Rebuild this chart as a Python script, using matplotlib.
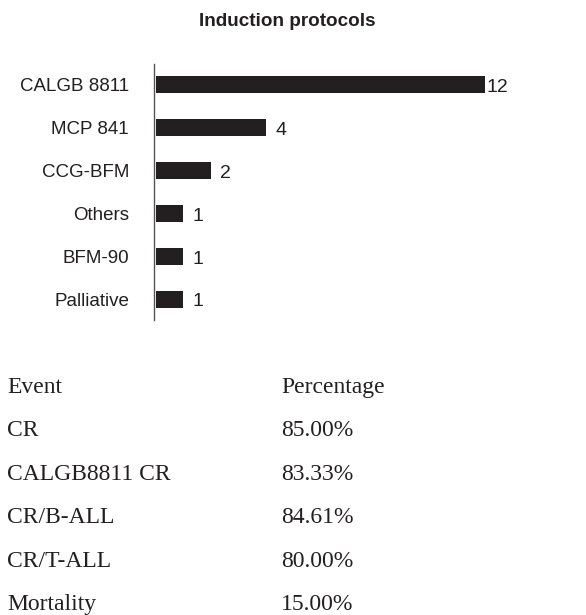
import matplotlib
matplotlib.use("Agg")
import matplotlib.pyplot as plt

# ---- data ----
protocols = ["CALGB 8811", "MCP 841", "CCG-BFM", "Others", "BFM-90", "Palliative"]
counts = [12, 4, 2, 1, 1, 1]

table_header = ["Event", "Percentage"]
events = ["CR", "CALGB8811 CR", "CR/B-ALL", "CR/T-ALL", "Mortality"]
percentages = [85.00, 83.33, 84.61, 80.00, 15.00]

# ---- figure ----
W, H = 586, 615
fig = plt.figure(figsize=(W / 100, H / 100), dpi=100)

# bar chart axes (pixel box -> figure fraction)
ax_left, ax_right, ax_top, ax_bot = 154, 560, 64, 320
ax = fig.add_axes([ax_left / W, 1 - ax_bot / H,
                   (ax_right - ax_left) / W, (ax_bot - ax_top) / H])

# spines first: set_position resets the ticks
for s in ["top", "right", "bottom"]:
    ax.spines[s].set_visible(False)
ax.spines["left"].set_color("#555555")
ax.spines["left"].set_linewidth(1.0)
ax.spines["left"].set_position(("data", -0.07))

px_per_unit = 27.4
ax.set_xlim(-0.07, (ax_right - ax_left) / px_per_unit - 0.07)
ypos = list(range(len(protocols)))
ax.barh(ypos, counts, height=0.39, color="#231f20", left=0)
ax.set_ylim(len(protocols) - 0.52, -0.48)

for y, c in zip(ypos, counts):
    off = 0.05 if c >= 10 else 0.35
    ax.text(c + off, y + 0.06, str(c), va="center", ha="left",
            fontsize=14, family="Liberation Sans", color="#231f20")

ax.tick_params(axis="y", length=0, pad=18)
ax.set_yticks(ypos)
ax.set_yticklabels(protocols, fontsize=13.5, family="Liberation Sans",
                   color="#231f20")
ax.set_xticks([])

fig.text(287 / W, 1 - 21 / H, "Induction protocols", ha="center", va="center",
         fontsize=13.6, fontweight="bold", family="Liberation Sans",
         color="#231f20")

# ---- table below ----
col_x = [7, 281]
base_y = 393
row_gap = 43.4
tfont = dict(fontsize=17, family="Liberation Serif", color="#231f20",
             va="baseline", ha="left")
for x, t in zip(col_x, table_header):
    fig.text(x / W, 1 - base_y / H, t, **tfont)
for i, (ev, p) in enumerate(zip(events, percentages)):
    y = base_y + (i + 1) * row_gap
    fig.text(col_x[0] / W, 1 - y / H, ev, **tfont)
    fig.text(col_x[1] / W, 1 - y / H, f"{p:.2f}%", **tfont)

fig.savefig("out.png", dpi=100)
